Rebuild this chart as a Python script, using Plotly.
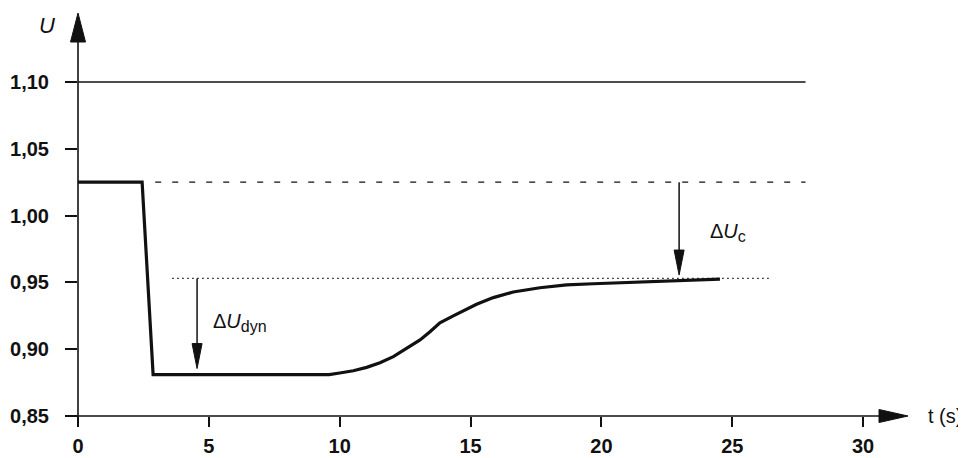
import plotly.graph_objects as go

# ---- data ----
t_values = [0, 2.45, 2.87, 9.6, 10.0, 10.52, 11.03, 11.54, 12.05, 12.56, 13.07, 13.45,
            13.83, 14.34, 14.91, 15.23, 15.87, 16.63, 17.65, 18.67, 19.69, 20.71, 22.24, 24.53]
u_values = [1.025, 1.025, 0.881, 0.881, 0.8822, 0.8839, 0.8864, 0.8899, 0.8944, 0.9006,
            0.9069, 0.9131, 0.9198, 0.9249, 0.9306, 0.9336, 0.9386, 0.9428, 0.9460, 0.9481,
            0.9490, 0.9497, 0.9513, 0.9525]

x_ticks = [0, 5, 10, 15, 20, 25, 30]
x_tick_labels = ["0", "5", "10", "15", "20", "25", "30"]
y_ticks = [0.85, 0.90, 0.95, 1.00, 1.05, 1.10]
y_tick_labels = ["0,85", "0,90", "0,95", "1,00", "1,05", "1,10"]

u_limit = 1.10          # upper solid line
u_initial = 1.025       # dashed line
u_final = 0.953         # dotted line
dyn_arrow_t = 4.55
c_arrow_t = 22.97

# ---- layout geometry (page has an 8px body margin) ----
OFF = 8
W, H = 966 - OFF, 458 - OFF
PLOT_LEFT, PLOT_BOTTOM = 78, 416          # screen pixels of the axes origin
pw, ph = 878, 406
ML = PLOT_LEFT - OFF
MB = H - (PLOT_BOTTOM - OFF)
MT = H - MB - ph
MR = W - ML - pw
px_per_t = 26.17
px_per_u = 1336.0
x_range = [0, pw / px_per_t]
y_range = [0.85, 0.85 + ph / px_per_u]

def px_x(px):   # screen pixel -> paper x
    return (px - PLOT_LEFT) / pw

def px_y(py):   # screen pixel -> paper y
    return (PLOT_BOTTOM - py) / ph

FONT = "Liberation Sans, Arial, sans-serif"
BLACK = "#111111"

fig = go.Figure()
fig.add_trace(go.Scatter(x=t_values, y=u_values, mode="lines",
                         line=dict(color=BLACK, width=3.2),
                         hoverinfo="skip", showlegend=False))

shapes = []
# reference lines
shapes.append(dict(type="line", xref="x", yref="y", x0=0, x1=27.8, y0=u_limit, y1=u_limit,
                   line=dict(color=BLACK, width=1.6)))
shapes.append(dict(type="line", xref="x", yref="y", x0=2.95, x1=27.8, y0=u_initial, y1=u_initial,
                   line=dict(color=BLACK, width=1.2, dash="6px,11px")))
shapes.append(dict(type="line", xref="x", yref="y", x0=3.6, x1=26.4, y0=u_final, y1=u_final,
                   line=dict(color=BLACK, width=1.3, dash="1.5px,3.5px")))

# axes lines (with extensions) and arrowheads
shapes.append(dict(type="line", xref="paper", yref="paper", x0=0, x1=0,
                   y0=px_y(427), y1=px_y(40), line=dict(color=BLACK, width=1.6)))
shapes.append(dict(type="line", xref="paper", yref="paper", x0=px_x(65), x1=px_x(882),
                   y0=0, y1=0, line=dict(color=BLACK, width=1.6)))
ya_tip, ya_base, ya_hw = px_y(13), px_y(42), 7.5 / pw
shapes.append(dict(type="path", xref="paper", yref="paper",
                   path=f"M {-ya_hw} {ya_base} L 0 {ya_tip} L {ya_hw} {ya_base} Z",
                   fillcolor=BLACK, line=dict(color=BLACK, width=1)))
xa_tip, xa_base, xa_hh = px_x(908), px_x(879), 6.5 / ph
shapes.append(dict(type="path", xref="paper", yref="paper",
                   path=f"M {xa_base} {-xa_hh} L {xa_tip} 0 L {xa_base} {xa_hh} Z",
                   fillcolor=BLACK, line=dict(color=BLACK, width=1)))

# delta arrows
head_len = 25 / px_per_u
head_hw = 5 / px_per_t
def add_arrow(t, u_top, u_tip):
    shapes.append(dict(type="line", xref="x", yref="y", x0=t, x1=t, y0=u_top, y1=u_tip + head_len * 0.5,
                       line=dict(color=BLACK, width=1.5)))
    shapes.append(dict(type="path", xref="x", yref="y",
                       path=f"M {t - head_hw} {u_tip + head_len} L {t} {u_tip} L {t + head_hw} {u_tip + head_len} Z",
                       fillcolor=BLACK, line=dict(color=BLACK, width=1)))

add_arrow(dyn_arrow_t, u_final, 0.8855)
add_arrow(c_arrow_t, u_initial, 0.9555)

SUB = "<span style='font-size:16px'>{}</span>"
annotations = [
    dict(xref="paper", yref="paper", x=px_x(47), y=px_y(26), text="<i>U</i>", showarrow=False,
         font=dict(family=FONT, size=22, color=BLACK), xanchor="center", yanchor="middle"),
    dict(xref="paper", yref="paper", x=px_x(926), y=px_y(416), text="t (s)", showarrow=False,
         font=dict(family=FONT, size=20, color=BLACK), xanchor="left", yanchor="middle"),
    dict(xref="paper", yref="paper", x=px_x(211), y=px_y(322),
         text="Δ<i>U</i><sub>" + SUB.format("dyn") + "</sub>",
         showarrow=False, font=dict(family=FONT, size=20, color=BLACK), xanchor="left", yanchor="middle"),
    dict(xref="paper", yref="paper", x=px_x(708), y=px_y(232),
         text="Δ<i>U</i><sub>" + SUB.format("c") + "</sub>",
         showarrow=False, font=dict(family=FONT, size=20, color=BLACK), xanchor="left", yanchor="middle"),
]

fig.update_layout(
    width=W, height=H,
    margin=dict(l=ML, r=MR, t=MT, b=MB, pad=0, autoexpand=False),
    paper_bgcolor="white", plot_bgcolor="white",
    shapes=shapes, annotations=annotations,
    xaxis=dict(range=x_range, tickvals=x_ticks, ticktext=x_tick_labels, showgrid=False,
               zeroline=False, showline=False, ticks="outside", ticklen=10, tickwidth=1.5,
               tickcolor=BLACK, ticklabelstandoff=2, automargin=False,
               tickfont=dict(family=FONT, size=20, color=BLACK, weight="bold")),
    yaxis=dict(range=y_range, tickvals=y_ticks, ticktext=y_tick_labels, showgrid=False,
               zeroline=False, showline=False, ticks="outside", ticklen=12, tickwidth=1.5,
               tickcolor=BLACK, ticklabelstandoff=12, automargin=False,
               tickfont=dict(family=FONT, size=20, color=BLACK, weight="bold")),
    showlegend=False,
)

fig.write_html("out.html")
